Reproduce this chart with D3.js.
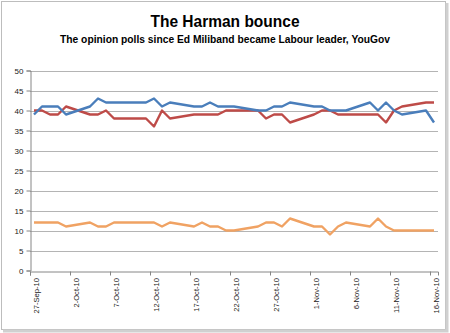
<!DOCTYPE html>
<html>
<head>
<meta charset="utf-8">
<script src="https://cdn.jsdelivr.net/npm/d3@7"></script>
<style>
  body { margin: 0; background: #fff; }
  svg { display: block; }
</style>
</head>
<body>
<div id="chart"></div>
<script>
// poll dates (day the line has a point)
const dates = ["2010-09-27","2010-09-28","2010-09-29","2010-09-30","2010-10-01",
  "2010-10-04","2010-10-05","2010-10-06","2010-10-07","2010-10-11","2010-10-12",
  "2010-10-13","2010-10-14","2010-10-17","2010-10-18","2010-10-19","2010-10-20",
  "2010-10-21","2010-10-22","2010-10-25","2010-10-26","2010-10-27","2010-10-28",
  "2010-10-29","2010-11-01","2010-11-02","2010-11-03","2010-11-04","2010-11-05",
  "2010-11-08","2010-11-09","2010-11-10","2010-11-11","2010-11-12","2010-11-15",
  "2010-11-16"];

const blueVals   = [39,41,41,41,39, 41,43,42,42,42,43, 41,42,41,41,42,41, 41,41,40,40,41,41, 42,41,41,40,40,40, 42,40,42,40,39,40, 37];
const redVals    = [40,40,39,39,41, 39,39,40,38,38,36, 40,38,39,39,39,39, 40,40,40,38,39,39, 37,39,40,40,39,39, 39,39,37,40,41,42, 42];
const orangeVals = [12,12,12,12,11, 12,11,11,12,12,12, 11,12,11,12,11,11, 10,10,11,12,12,11, 13,11,11, 9,11,12, 11,13,11,10,10,10, 10];

const yTicks = d3.range(0, 51, 5);
const xTickDates = ["2010-09-27","2010-10-02","2010-10-07","2010-10-12","2010-10-17",
  "2010-10-22","2010-10-27","2010-11-01","2010-11-06","2010-11-11","2010-11-16"];

const W = 450, H = 333;
const parse = d3.timeParse("%Y-%m-%d");
const fmt = d3.timeFormat("%-d-%b-%y");

const svg = d3.select("#chart").append("svg")
  .attr("width", W)
  .attr("height", H);

// outer frame
svg.append("rect")
  .attr("x", 1.5).attr("y", 1.5)
  .attr("width", 444).attr("height", 328)
  .attr("fill", "#fff")
  .attr("stroke", "#bdbdbd")
  .attr("stroke-width", 1);
svg.append("path")
  .attr("d", "M447,3V331H3")
  .attr("fill", "none")
  .attr("stroke", "#d0d0d0")
  .attr("stroke-width", 3);

svg.append("text")
  .attr("x", 225).attr("y", 27)
  .attr("text-anchor", "middle")
  .attr("font-family", "Liberation Sans, Arial, sans-serif")
  .attr("font-weight", "bold")
  .attr("font-size", "17px")
  .attr("textLength", 149)
  .attr("lengthAdjust", "spacingAndGlyphs")
  .text("The Harman bounce");

svg.append("text")
  .attr("x", 225).attr("y", 43)
  .attr("text-anchor", "middle")
  .attr("font-family", "Liberation Sans, Arial, sans-serif")
  .attr("font-weight", "bold")
  .attr("font-size", "10.5px")
  .attr("textLength", 330)
  .attr("lengthAdjust", "spacingAndGlyphs")
  .text("The opinion polls since Ed Miliband became Labour leader, YouGov");

const x = d3.scaleTime()
  .domain([parse("2010-09-27"), parse("2010-11-17")])
  .range([30, 438]);
const y = d3.scaleLinear()
  .domain([0, 50])
  .range([270.5, 70.5]);

const halfDay = 12 * 3600 * 1000;
const xm = s => x(new Date(parse(s).getTime() + halfDay));

// gridlines
svg.append("g").selectAll("line")
  .data(yTicks.filter(v => v > 0))
  .enter().append("line")
  .attr("x1", 30).attr("x2", 438)
  .attr("y1", d => Math.round(y(d)) + 0.5)
  .attr("y2", d => Math.round(y(d)) + 0.5)
  .attr("stroke", "#b4b4b4")
  .attr("stroke-width", 1);

// y axis
const yAxis = svg.append("g")
  .attr("transform", "translate(30.5,0)")
  .call(d3.axisLeft(y).tickValues(yTicks).tickSize(4).tickPadding(3));
yAxis.select(".domain").attr("stroke", "#868686");
yAxis.selectAll(".tick line").attr("stroke", "#868686");
yAxis.selectAll(".tick text")
  .attr("font-family", "Liberation Sans, Arial, sans-serif")
  .attr("font-size", "8px")
  .attr("fill", "#222");

// x axis
const xAxis = svg.append("g")
  .attr("transform", `translate(0,${Math.round(y(0)) + 0.5})`)
  .call(d3.axisBottom(x).tickValues(xTickDates.map(parse)).tickSize(4).tickFormat(""));
xAxis.select(".domain").attr("stroke", "#868686");
xAxis.selectAll(".tick line").attr("stroke", "#868686");

svg.append("g").selectAll("text")
  .data(xTickDates)
  .enter().append("text")
  .attr("transform", d => `translate(${xm(d) + 2},278) rotate(-90)`)
  .attr("text-anchor", "end")
  .attr("dy", "0.35em")
  .attr("font-family", "Liberation Sans, Arial, sans-serif")
  .attr("font-size", "7.6px")
  .attr("fill", "#222")
  .text(d => fmt(parse(d)));

const line = d3.line()
  .x((d, i) => xm(dates[i]))
  .y(d => y(d));

const series = [
  { vals: orangeVals, color: "#f0a263" },
  { vals: redVals,    color: "#be4b48" },
  { vals: blueVals,   color: "#4a7ebb" }
];

svg.append("g").selectAll("path")
  .data(series)
  .enter().append("path")
  .attr("fill", "none")
  .attr("stroke", d => d.color)
  .attr("stroke-width", 2.4)
  .attr("stroke-linejoin", "round")
  .attr("d", d => line(d.vals));
</script>
</body>
</html>
